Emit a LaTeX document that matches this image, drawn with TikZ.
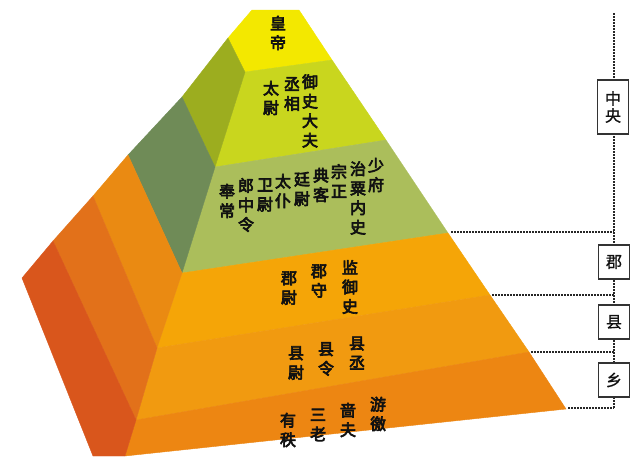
\documentclass[tikz,border=0pt]{standalone}
\usepackage{fontspec}
\newfontfamily\cjk[FakeBold=4]{Noto Sans CJK SC}
\newfontfamily\cjkr[FakeBold=1]{Noto Sans CJK SC}
\definecolor{yel}{HTML}{F3E800}
\definecolor{ttwof}{HTML}{C9D61E}
\definecolor{ttwos}{HTML}{9CAD1F}
\definecolor{tthrf}{HTML}{ABBE5B}
\definecolor{tthrs}{HTML}{6F8B57}
\definecolor{tfouf}{HTML}{F5A507}
\definecolor{tfous}{HTML}{EA8A12}
\definecolor{tfivf}{HTML}{F19A10}
\definecolor{tfivs}{HTML}{E2711A}
\definecolor{tsixf}{HTML}{ED8612}
\definecolor{tsixs}{HTML}{D9561C}
\definecolor{inkc}{HTML}{111111}
\begin{document}
\begin{tikzpicture}[x=1pt,y=-1pt,
  vcol/.style={font=\cjk\fontsize{16}{19.5}\selectfont, align=center, inner sep=0pt, text=inkc},
  lvlbox/.style={draw=black!80, line width=1.1pt, fill=white, font=\cjkr\fontsize{16}{19}\selectfont, align=center, minimum width=31pt, minimum height=34pt, inner sep=0pt, text=inkc},
  dots/.style={draw=black!85, line width=1.5pt, dash pattern=on 1.5pt off 1.5pt},
  face/.style={line width=0.4pt}]
\useasboundingbox (0,0) rectangle (640,459);
\fill[white] (0,0) rectangle (640,459);
% key points
\coordinate (A1) at (252,10); \coordinate (A2) at (299,10);
\coordinate (L1) at (228,38); \coordinate (L2) at (182,97); \coordinate (L3) at (128,155);
\coordinate (L4) at (93,196); \coordinate (L5) at (53,241); \coordinate (L6) at (22,278);
\coordinate (B1) at (93,456);
\coordinate (F1) at (245,72); \coordinate (F2) at (215,167); \coordinate (F3) at (182,273);
\coordinate (F4) at (157,348); \coordinate (F5) at (136,420); \coordinate (F6) at (125,456);
\coordinate (R1) at (332,60); \coordinate (R2) at (386,140); \coordinate (R3) at (448,233);
\coordinate (R4) at (490,295); \coordinate (R5) at (529,352); \coordinate (R6) at (566,409);
% tiers
\filldraw[face,fill=yel,draw=yel] (A1) -- (A2) -- (R1) -- (F1) -- (L1) -- cycle;
\filldraw[face,fill=ttwof,draw=ttwof] (F1) -- (R1) -- (R2) -- (F2) -- cycle;
\filldraw[face,fill=ttwos,draw=ttwos] (L1) -- (F1) -- (F2) -- (L2) -- cycle;
\filldraw[face,fill=tthrf,draw=tthrf] (F2) -- (R2) -- (R3) -- (F3) -- cycle;
\filldraw[face,fill=tthrs,draw=tthrs] (L2) -- (F2) -- (F3) -- (L3) -- cycle;
\filldraw[face,fill=tfouf,draw=tfouf] (F3) -- (R3) -- (R4) -- (F4) -- cycle;
\filldraw[face,fill=tfous,draw=tfous] (L3) -- (F3) -- (F4) -- (L4) -- cycle;
\filldraw[face,fill=tfivf,draw=tfivf] (F4) -- (R4) -- (R5) -- (F5) -- cycle;
\filldraw[face,fill=tfivs,draw=tfivs] (L4) -- (F4) -- (F5) -- (L5) -- cycle;
\filldraw[face,fill=tsixf,draw=tsixf] (F5) -- (R5) -- (R6) -- (F6) -- cycle;
\filldraw[face,fill=tsixs,draw=tsixs] (L5) -- (F5) -- (F6) -- (B1) -- (L6) -- cycle;
% dotted guide lines
\coordinate (vtop) at (614,13);
\coordinate (vbot) at (614,408);
\coordinate (h3) at (614,232); \coordinate (h3s) at (451,232);
\coordinate (h4) at (614,295); \coordinate (h4s) at (492,295);
\coordinate (h5) at (614,352); \coordinate (h5s) at (531,352);
\coordinate (h6s) at (568,408);
\draw[dots] (vtop) -- (vbot);
\draw[dots] (h3s) -- (h3);
\draw[dots] (h4s) -- (h4);
\draw[dots] (h5s) -- (h5);
\draw[dots] (h6s) -- (vbot);
% level boxes
\node[lvlbox, minimum height=54pt] (zy) at (613,107) {中\\[-2pt]央};
\node[lvlbox] (jun) at (614,262) {郡};
\node[lvlbox] (xian) at (614,322) {县};
\node[lvlbox] (xiang) at (614,380) {乡};
% tier 1
\node[vcol] (huangdi) at (278,33) {皇\\帝};
% tier 2
\node[vcol] (taiwei) at (271,98) {太\\尉};
\node[vcol] (chengxiang) at (292,94) {丞\\相};
\node[vcol] (yushi) at (310,111) {御\\史\\大\\夫};
% tier 3
\node[vcol] (fengchang) at (227,201) {奉\\常};
\node[vcol] (langzhong) at (246,205) {郎\\中\\令};
\node[vcol] (weiwei) at (265,195) {卫\\尉};
\node[vcol] (taipu) at (283,191) {太\\仆};
\node[vcol] (tingwei) at (302,189) {廷\\尉};
\node[vcol] (dianke) at (321,185) {典\\客};
\node[vcol] (zongzheng) at (339,181) {宗\\正};
\node[vcol] (zhisu) at (358,198) {治\\粟\\内\\史};
\node[vcol] (shaofu) at (376,175) {少\\府};
% tier 4
\node[vcol] (junwei) at (289,288) {郡\\尉};
\node[vcol] (junshou) at (319,281) {郡\\守};
\node[vcol] (jianyushi) at (350,287) {监\\御\\史};
% tier 5
\node[vcol] (xianwei) at (296,363) {县\\尉};
\node[vcol] (xianling) at (326,359) {县\\令};
\node[vcol] (xiancheng) at (357,353) {县\\丞};
% tier 6
\node[vcol] (youzhi) at (288,430) {有\\秩};
\node[vcol] (sanlao) at (318,425) {三\\老};
\node[vcol] (sefu) at (348,420) {啬\\夫};
\node[vcol] (youjiao) at (378,414) {游\\徼};
\end{tikzpicture}
\end{document}
